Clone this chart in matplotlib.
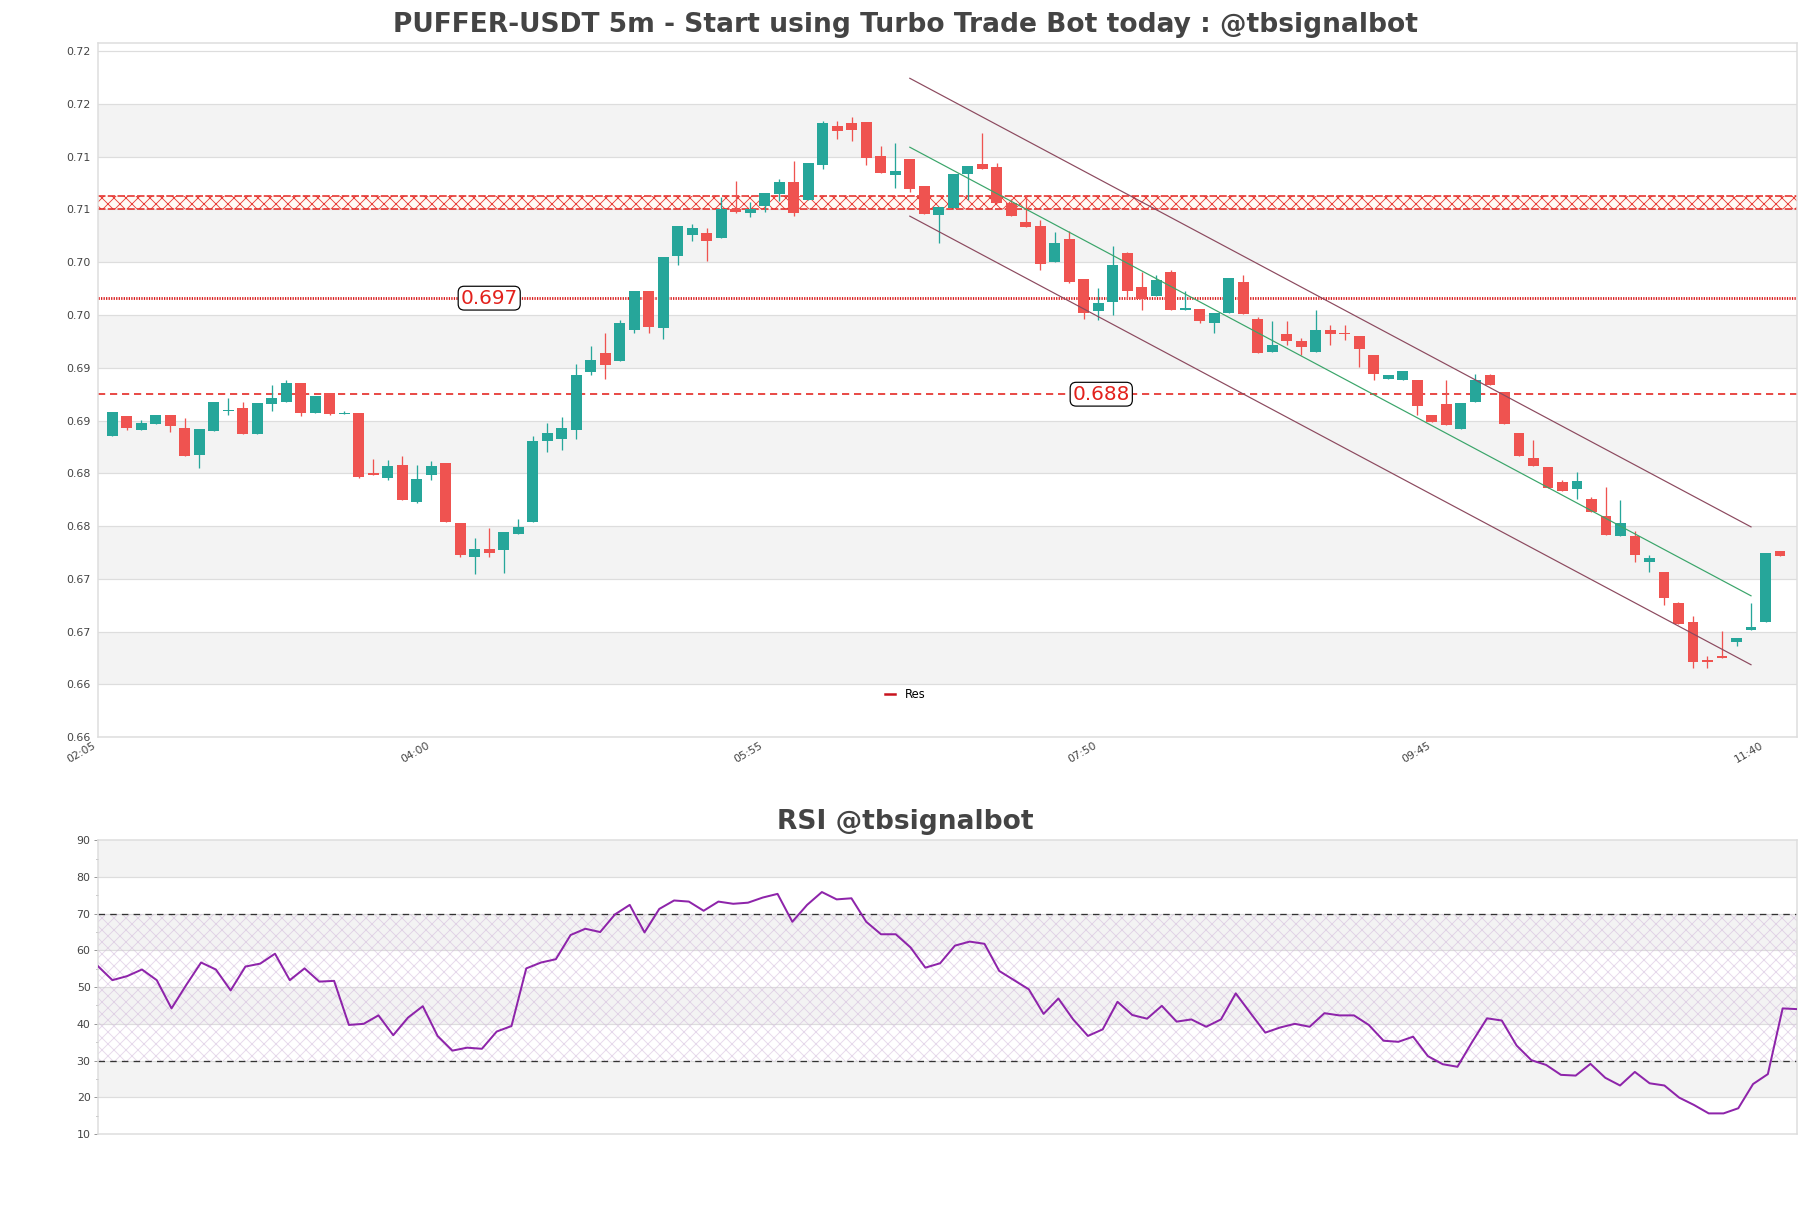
import numpy as np
import pandas as pd
import matplotlib
matplotlib.use("Agg")
import matplotlib.pyplot as plt

# ===== data =====
opens = [0.6835, 0.6854, 0.6841, 0.6847, 0.6855, 0.6843, 0.6817, 0.6840, 0.6859, 0.6862,
         0.6837, 0.6866, 0.6868, 0.6886, 0.6857, 0.6876, 0.6856, 0.6857, 0.6800, 0.6796,
         0.6808, 0.6773, 0.6798, 0.6810, 0.6753, 0.6721, 0.6728, 0.6727, 0.6743, 0.6754,
         0.6831, 0.6833, 0.6841, 0.6896, 0.6914, 0.6906, 0.6936, 0.6973, 0.6938, 0.7006,
         0.7026, 0.7028, 0.7023, 0.7050, 0.7047, 0.7053, 0.7065, 0.7076, 0.7059, 0.7092,
         0.7129, 0.7132, 0.7133, 0.7101, 0.7083, 0.7098, 0.7072, 0.7045, 0.7051, 0.7084,
         0.7093, 0.7090, 0.7056, 0.7038, 0.7034, 0.7000, 0.7022, 0.6984, 0.6954, 0.6962,
         0.7009, 0.6977, 0.6968, 0.6991, 0.6955, 0.6956, 0.6942, 0.6952, 0.6981, 0.6946,
         0.6915, 0.6932, 0.6925, 0.6915, 0.6936, 0.6933, 0.6930, 0.6912, 0.6889, 0.6888,
         0.6888, 0.6855, 0.6866, 0.6842, 0.6868, 0.6893, 0.6877, 0.6838, 0.6815, 0.6806,
         0.6792, 0.6785, 0.6776, 0.6760, 0.6741, 0.6741, 0.6716, 0.6707, 0.6677, 0.6659,
         0.6623, 0.6627, 0.6640, 0.6652, 0.6659, 0.6726]
highs = [0.6858, 0.6854, 0.6851, 0.6855, 0.6855, 0.6852, 0.6842, 0.6868, 0.6871, 0.6868,
         0.6867, 0.6884, 0.6888, 0.6886, 0.6873, 0.6876, 0.6859, 0.6857, 0.6814, 0.6813,
         0.6816, 0.6808, 0.6812, 0.6810, 0.6753, 0.6739, 0.6748, 0.6744, 0.6757, 0.6835,
         0.6848, 0.6853, 0.6904, 0.6921, 0.6933, 0.6945, 0.6973, 0.6973, 0.7005, 0.7034,
         0.7036, 0.7032, 0.7062, 0.7077, 0.7057, 0.7066, 0.7079, 0.7096, 0.7094, 0.7134,
         0.7134, 0.7138, 0.7133, 0.7110, 0.7113, 0.7098, 0.7072, 0.7052, 0.7084, 0.7091,
         0.7122, 0.7094, 0.7060, 0.7064, 0.7040, 0.7029, 0.7030, 0.6984, 0.6976, 0.7015,
         0.7010, 0.6991, 0.6988, 0.6993, 0.6973, 0.6956, 0.6952, 0.6985, 0.6988, 0.6948,
         0.6944, 0.6944, 0.6928, 0.6955, 0.6941, 0.6941, 0.6930, 0.6912, 0.6893, 0.6897,
         0.6888, 0.6855, 0.6888, 0.6867, 0.6894, 0.6894, 0.6877, 0.6838, 0.6832, 0.6806,
         0.6794, 0.6801, 0.6778, 0.6787, 0.6775, 0.6745, 0.6723, 0.6707, 0.6678, 0.6665,
         0.6627, 0.6651, 0.6644, 0.6677, 0.6725, 0.6726]
lows = [0.6835, 0.6841, 0.6841, 0.6847, 0.6839, 0.6816, 0.6805, 0.6840, 0.6855, 0.6837,
        0.6837, 0.6859, 0.6868, 0.6854, 0.6857, 0.6855, 0.6856, 0.6796, 0.6798, 0.6794,
        0.6775, 0.6772, 0.6794, 0.6754, 0.6721, 0.6705, 0.6721, 0.6706, 0.6743, 0.6754,
        0.6820, 0.6822, 0.6833, 0.6893, 0.6889, 0.6906, 0.6933, 0.6933, 0.6927, 0.6997,
        0.7020, 0.7001, 0.7023, 0.7047, 0.7043, 0.7048, 0.7058, 0.7044, 0.7059, 0.7088,
        0.7117, 0.7115, 0.7092, 0.7085, 0.7070, 0.7067, 0.7046, 0.7018, 0.7051, 0.7059,
        0.7088, 0.7056, 0.7044, 0.7033, 0.6993, 0.7000, 0.6980, 0.6946, 0.6945, 0.6950,
        0.6965, 0.6955, 0.6968, 0.6955, 0.6955, 0.6942, 0.6933, 0.6952, 0.6951, 0.6914,
        0.6915, 0.6922, 0.6912, 0.6915, 0.6922, 0.6926, 0.6901, 0.6888, 0.6889, 0.6888,
        0.6855, 0.6849, 0.6846, 0.6842, 0.6868, 0.6884, 0.6847, 0.6816, 0.6807, 0.6786,
        0.6783, 0.6776, 0.6763, 0.6742, 0.6741, 0.6716, 0.6707, 0.6675, 0.6657, 0.6616,
        0.6616, 0.6625, 0.6636, 0.6652, 0.6659, 0.6722]
closes = [0.6858, 0.6843, 0.6848, 0.6855, 0.6845, 0.6816, 0.6842, 0.6868, 0.6860, 0.6837,
          0.6867, 0.6871, 0.6886, 0.6857, 0.6873, 0.6856, 0.6857, 0.6797, 0.6798, 0.6807,
          0.6775, 0.6795, 0.6807, 0.6754, 0.6723, 0.6728, 0.6725, 0.6744, 0.6749, 0.6831,
          0.6838, 0.6843, 0.6893, 0.6907, 0.6903, 0.6942, 0.6973, 0.6939, 0.7005, 0.7034,
          0.7032, 0.7020, 0.7050, 0.7048, 0.7050, 0.7066, 0.7076, 0.7047, 0.7094, 0.7132,
          0.7124, 0.7125, 0.7099, 0.7085, 0.7086, 0.7069, 0.7046, 0.7052, 0.7084, 0.7091,
          0.7088, 0.7056, 0.7044, 0.7033, 0.6998, 0.7018, 0.6981, 0.6952, 0.6961, 0.6997,
          0.6973, 0.6965, 0.6983, 0.6955, 0.6957, 0.6944, 0.6952, 0.6985, 0.6951, 0.6914,
          0.6922, 0.6925, 0.6920, 0.6936, 0.6932, 0.6932, 0.6918, 0.6894, 0.6893, 0.6897,
          0.6864, 0.6849, 0.6846, 0.6867, 0.6888, 0.6884, 0.6847, 0.6816, 0.6807, 0.6786,
          0.6783, 0.6793, 0.6763, 0.6742, 0.6753, 0.6723, 0.6720, 0.6682, 0.6657, 0.6621,
          0.6621, 0.6625, 0.6644, 0.6654, 0.6725, 0.6722]

rsi = [55.8, 51.9, 53.0, 54.8, 51.9, 44.2, 50.6, 56.7, 54.8, 49.1,
       55.6, 56.4, 59.1, 51.9, 55.1, 51.5, 51.7, 39.7, 40.0, 42.3,
       36.9, 41.7, 44.8, 36.7, 32.7, 33.5, 33.2, 37.9, 39.4, 55.1,
       56.7, 57.6, 64.2, 65.9, 65.0, 69.8, 72.4, 64.9, 71.3, 73.6,
       73.3, 70.8, 73.3, 72.7, 73.0, 74.4, 75.4, 67.8, 72.4, 75.9,
       73.9, 74.2, 67.8, 64.4, 64.4, 60.8, 55.3, 56.5, 61.3, 62.4,
       61.8, 54.4, 51.9, 49.4, 42.7, 46.9, 41.2, 36.7, 38.5, 46.0,
       42.4, 41.4, 44.9, 40.6, 41.2, 39.2, 41.2, 48.3, 42.9, 37.6,
       39.0, 40.0, 39.2, 42.9, 42.3, 42.3, 39.7, 35.4, 35.1, 36.5,
       31.2, 29.0, 28.3, 35.1, 41.5, 40.9, 34.1, 30.1, 28.8, 26.1,
       25.9, 29.1, 25.3, 23.2, 26.9, 23.8, 23.2, 19.9, 17.9, 15.6,
       15.6, 17.0, 23.6, 26.3, 44.2, 44.0]

start_time = "02:05"
first_candle = "02:10"
xtick_labels = ["02:05", "04:00", "05:55", "07:50", "09:45", "11:40"]

price_ticks = [0.655, 0.660, 0.665, 0.670, 0.675, 0.680, 0.685,
               0.690, 0.695, 0.700, 0.705, 0.710, 0.715, 0.720]
price_tick_labels = ["0.66", "0.66", "0.67", "0.67", "0.68", "0.68", "0.69",
                     "0.69", "0.70", "0.70", "0.71", "0.71", "0.72", "0.72"]

res_zone = (0.7050, 0.7063)
res_dotted = 0.6966
res_dashed = 0.6875
res_dotted_label = "0.697"
res_dashed_label = "0.688"

# channel (start / end candle, mid start / end price, half width)
channel_x = [56, 114]
channel_mid = [0.7109, 0.6684]
channel_half = 0.00653

rsi_upper, rsi_lower = 70, 30

# ===== colors =====
UP = "#26a69a"
DOWN = "#ef5350"
BAND = "#f3f3f3"
GRID = "#dddddd"
RED = "#e3211c"
TXT = "#444444"

plt.rcParams['font.family'] = ['DejaVu Sans']
plt.rcParams['hatch.linewidth'] = 0.9

# ===== figure =====
fig = plt.figure(figsize=(1811 / 72, 1208 / 72), dpi=72)
ax = fig.add_axes([0.0539, 0.3897, 0.9386, 0.5745])
ax2 = fig.add_axes([0.0539, 0.0613, 0.9386, 0.2431])

t0 = pd.Timestamp("2024-01-01 " + start_time)
times = pd.date_range("2024-01-01 " + first_candle, periods=len(opens), freq="5min")
xs = np.array((times - t0) / pd.Timedelta("5min"))

# bands + grid
for lo in np.arange(0.660, 0.715, 0.010):
    ax.axhspan(lo, lo + 0.005, color=BAND, zorder=0, lw=0)
for t in price_ticks:
    ax.axhline(t, color=GRID, lw=1.2, zorder=0.5)

# resistance zone
ax.axhspan(res_zone[0], res_zone[1], facecolor="#fffaf5", edgecolor="#e8403a",
           hatch="xx", lw=0, zorder=1)
for y in res_zone:
    ax.axhline(y, color=RED, lw=1.5, dashes=(5, 1.5), zorder=1.1)

ax.axhline(res_dotted, color="#d81818", lw=2.8, dashes=(0.45, 0.45), zorder=1.2)
ax.axhline(res_dashed, color=RED, lw=1.6, dashes=(4.5, 3), zorder=1.2)
ax.plot([], [], color="#c8141e", lw=2.5, label="Res")

box = dict(boxstyle="round,pad=0.12,rounding_size=0.3", fc="white", ec="black", lw=1.2)
ax.text(27, res_dotted, res_dotted_label, color=RED, fontsize=20, ha="center",
        va="center", bbox=box, zorder=5)
ax.text(69.2, res_dashed, res_dashed_label, color=RED, fontsize=20, ha="center",
        va="center", bbox=box, zorder=5)

# candles
o = np.array(opens)
c = np.array(closes)
h = np.array(highs)
l = np.array(lows)
up = c >= o
cols = np.where(up, UP, DOWN)
body_lo = np.minimum(o, c)
body_h = np.maximum(np.abs(c - o), 0.00012)
ax.vlines(xs, l, h, colors=cols, lw=1.3, zorder=2)
ax.bar(xs, body_h, bottom=body_lo, width=0.75, color=cols, lw=0, zorder=3)

# channel
cx = np.array(channel_x)
cm = np.array(channel_mid)
ax.plot(cx, cm + channel_half, color="#8c4a5f", lw=1.2, zorder=4)
ax.plot(cx, cm, color="#3aa56a", lw=1.2, zorder=4)
ax.plot(cx, cm - channel_half, color="#8c4a5f", lw=1.2, zorder=4)

ax.set_ylim(0.655, 0.72075)
ax.set_xlim(0, 117.2)
ax.set_yticks(price_ticks)
ax.set_yticklabels(price_tick_labels)
tick_pos = [(pd.Timestamp("2024-01-01 " + s) - t0) / pd.Timedelta("5min") for s in xtick_labels]
ax.set_xticks(tick_pos)
ax.set_xticklabels(xtick_labels, rotation=30, ha="right")
ax.tick_params(axis="both", length=0, labelsize=11, labelcolor=TXT)
ax.tick_params(axis="y", pad=7)
ax.tick_params(axis="x", pad=3)
for s in ax.spines.values():
    s.set_color(GRID)
    s.set_linewidth(1.5)
ax.legend(loc="center", bbox_to_anchor=(0.475, 0.061), frameon=False, fontsize=11.5,
          handlelength=0.9, handletextpad=0.8)

fig.text(0.5, 0.9733, "PUFFER-USDT 5m - Start using Turbo Trade Bot today : @tbsignalbot",
         ha="center", va="baseline", fontsize=26.5, fontweight="bold", color=TXT)

# ===== RSI =====
rx = np.arange(len(rsi))
for lo in [20, 40, 60, 80]:
    ax2.axhspan(lo, lo + 10, color=BAND, zorder=0, lw=0)
for t in range(20, 90, 10):
    ax2.axhline(t, color=GRID, lw=1.2, zorder=0.5)
ax2.axhspan(rsi_lower, rsi_upper, facecolor="none", edgecolor=(0.82, 0.72, 0.86, 0.55),
            hatch="xx", lw=0, zorder=1)
ax2.axhline(rsi_upper, color="#333333", lw=1.3, dashes=(5, 4), zorder=2)
ax2.axhline(rsi_lower, color="#333333", lw=1.3, dashes=(5, 4), zorder=2)
ax2.plot(rx, rsi, color="#8e24aa", lw=2, zorder=3)
ax2.set_xlim(0, len(rsi) - 1)
ax2.set_ylim(10, 90)
ax2.set_yticks(range(10, 100, 10))
ax2.set_yticks(range(15, 90, 10), minor=True)
ax2.set_xticks([])
ax2.tick_params(axis="y", which="major", length=4, width=1, color="#999999",
                labelsize=11, labelcolor=TXT, pad=3)
ax2.tick_params(axis="y", which="minor", length=2.5, width=1, color="#999999")
for s in ax2.spines.values():
    s.set_color(GRID)
    s.set_linewidth(1.5)

fig.text(0.5, 0.3135, "RSI @tbsignalbot", ha="center", va="baseline",
         fontsize=26.5, fontweight="bold", color=TXT)

fig.savefig("out.png", dpi=72, facecolor="white")
